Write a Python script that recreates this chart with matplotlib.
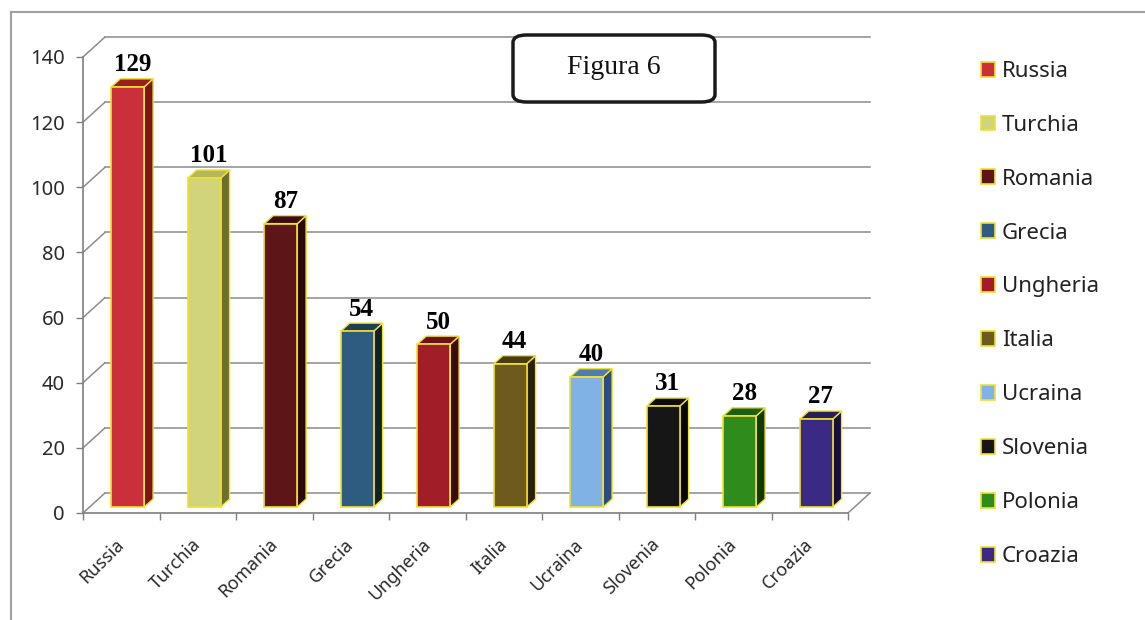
import matplotlib.pyplot as plt
import numpy as np
from matplotlib.patches import Polygon, FancyBboxPatch
from matplotlib.lines import Line2D
from matplotlib.transforms import ScaledTranslation

countries = ['Russia', 'Turchia', 'Romania', 'Grecia', 'Ungheria',
             'Italia', 'Ucraina', 'Slovenia', 'Polonia', 'Croazia']
values = [129, 101, 87, 54, 50, 44, 40, 31, 28, 27]
yticks = [0, 20, 40, 60, 80, 100, 120, 140]

front_col = ['#c9303a', '#d2d47c', '#5e1518', '#2e5b80', '#a11d28',
             '#6e5a1c', '#80b2e6', '#161616', '#2f8c1c', '#3b2a84']
side_col = ['#7d1418', '#6e6e2c', '#2b0a0a', '#10202e', '#3c0a0e',
            '#2a2208', '#2c4c80', '#050505', '#0f3a08', '#150f3a']
top_col = ['#9a1f22', '#b5b85a', '#3b0d0e', '#1e3e58', '#6a1218',
           '#4a3c10', '#4e7cb4', '#0c0c0c', '#1f6010', '#2a1e5c']
edge = '#f0e030'
grid = '#8c8c8c'

W, H = 1145, 620
fig = plt.figure(figsize=(W / 100, H / 100), dpi=100, facecolor='white')
ax = fig.add_axes([83 / W, (H - 513) / H, 765 / W, 456 / H])
ax.set_xlim(0, 10)
ax.set_ylim(0, 140)

# depth of the fake 3d floor, in data units
dx = 22 / 76.5
dy = 20 / (456 / 140)

for v in yticks:
    ax.plot([dx, 10 + dx], [v + dy, v + dy], color=grid, lw=1.1, clip_on=False, zorder=1)
    ax.plot([0, dx], [v, v + dy], color=grid, lw=1.1, clip_on=False, zorder=1)
ax.plot([10, 10 + dx], [0, dy], color=grid, lw=1.1, clip_on=False, zorder=1)

# bars
f0, f1 = 0.3, 0.7
w = 0.43
x = np.arange(len(values)) + 0.5 + f0 * dx
bars = ax.bar(x, values, width=w, bottom=f0 * dy, color=front_col,
              edgecolor=edge, linewidth=1.2, zorder=3, clip_on=False)
ddx = (f1 - f0) * dx
ddy = (f1 - f0) * dy
for i, v in enumerate(values):
    xl = x[i] - w / 2
    xr = x[i] + w / 2
    b = f0 * dy
    t = v + f0 * dy
    ax.add_patch(Polygon([(xr, b), (xr + ddx, b + ddy), (xr + ddx, t + ddy), (xr, t)],
                         closed=True, facecolor=side_col[i], edgecolor=edge, lw=1,
                         zorder=2.5, clip_on=False))
    ax.add_patch(Polygon([(xl, t), (xl + ddx, t + ddy), (xr + ddx, t + ddy), (xr, t)],
                         closed=True, facecolor=top_col[i], edgecolor=edge, lw=1,
                         zorder=2.6, clip_on=False))
    ax.text(x[i] + ddx / 2, t + ddy + 0.8, str(v), ha='center', va='bottom',
            fontsize=18, fontweight='bold', family='Liberation Serif', color='black')

for s in ['top', 'right']:
    ax.spines[s].set_visible(False)
for s in ['left', 'bottom']:
    ax.spines[s].set_color('#7f7f7f')
    ax.spines[s].set_linewidth(1.2)
ax.set_facecolor('none')

ax.set_yticks(yticks)
ax.set_yticklabels([str(v) for v in yticks], family='Noto Sans', fontsize=14.5, color='#2a2a2a')
ax.tick_params(axis='y', length=5, width=1, color='#7f7f7f', pad=8)
ax.set_xticks(np.arange(11), minor=True)
ax.set_xticks(np.arange(10) + 0.5)
ax.set_xticklabels(countries, rotation=45, ha='right', rotation_mode='anchor',
                   family='Noto Sans', fontsize=13, color='#2a2a2a')
ax.tick_params(axis='x', which='major', length=0, pad=16)
ax.tick_params(axis='x', which='minor', length=5, width=1, color='#7f7f7f')
shift = ScaledTranslation(-6 / 100, 0, fig.dpi_scale_trans)
for lab in ax.get_xticklabels():
    lab.set_transform(lab.get_transform() + shift)

# legend
leg = fig.legend(bars, countries, loc='upper left', bbox_to_anchor=(972 / W, 1 - 52 / H),
                 frameon=False, fontsize=16, handlelength=0.65, handleheight=0.65,
                 handletextpad=0.3, labelspacing=1.48, borderaxespad=0)
for t in leg.get_texts():
    t.set_family('Noto Sans')
    t.set_color('#222222')

# "Figura 6" box
box = FancyBboxPatch((513 / W, 1 - 102 / H), 202 / W, 67 / H,
                     boxstyle='round,pad=0,rounding_size=0.012',
                     transform=fig.transFigure, facecolor='white', edgecolor='#1a1a1a',
                     lw=2.5, zorder=5)
fig.patches.append(box)
fig.text(614 / W, 1 - 68 / H, 'Figura 6', ha='center', va='center', fontsize=20,
         family='Liberation Serif', color='#111111', zorder=6)

# outer frame
fig.add_artist(Line2D([11 / W, 11 / W], [0, 1 - 12 / H], transform=fig.transFigure,
                      color='#a0a0a0', lw=1.5))
fig.add_artist(Line2D([11 / W, 1], [1 - 12 / H, 1 - 12 / H], transform=fig.transFigure,
                      color='#a0a0a0', lw=1.5))

fig.savefig('out.png', dpi=100, facecolor='white')
